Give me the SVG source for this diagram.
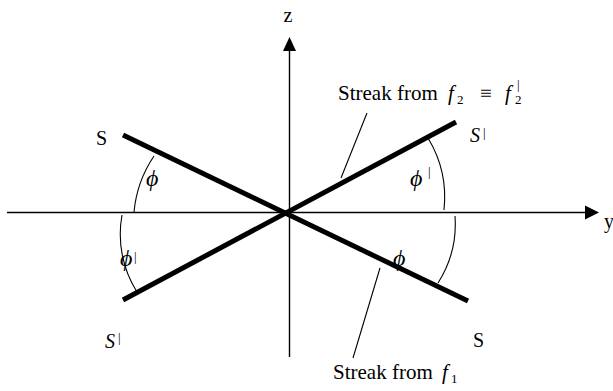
<svg xmlns="http://www.w3.org/2000/svg" width="613" height="391" viewBox="0 0 613 391">
<style>
text{font-family:"Liberation Serif","Times New Roman",serif;fill:#000}
.lab{font-size:20px}
.big{font-size:21px}
.phi{font-size:24px;font-style:italic}
.it{font-style:italic}
.sub{font-size:13px}
.bar{font-size:13px}
.axis{stroke:#000;stroke-width:1.4;fill:none}
.streak{stroke:#000;stroke-width:5;fill:none}
.thin{stroke:#000;stroke-width:1.1;fill:none}
</style>
<rect width="613" height="391" fill="#fff"/>
<g id="axes">
<line class="axis" x1="7" y1="212.5" x2="587" y2="212.5"/>
<polygon points="585,205.5 599,212.5 585,219.5" fill="#000"/>
<line class="axis" x1="289.5" y1="357" x2="289.5" y2="50"/>
<polygon points="283,51 289.5,37 296,51" fill="#000"/>
<text class="lab" x="288" y="22" text-anchor="middle">z</text>
<text class="lab" x="604" y="228">y</text>
</g>
<g id="streaks">
<line class="streak" x1="123" y1="135" x2="468" y2="301"/>
<line class="streak" x1="123" y1="300" x2="456" y2="122"/>
</g>
<g id="angles">
<path class="thin" d="M154,156 A120,120 0 0 0 134,212"/>
<path class="thin" d="M122,215 A108,108 0 0 0 137,292"/>
<path class="thin" d="M428,138 A115,115 0 0 1 444,210"/>
<path class="thin" d="M455,216 A110,110 0 0 1 438,283"/>
</g>
<g id="connectors">
<line class="thin" x1="367" y1="113" x2="341" y2="178"/>
<line class="thin" x1="380" y1="268" x2="353" y2="358"/>
</g>
<g id="labels">
<text class="lab" x="96" y="145">S</text>
<text class="phi" x="146" y="186">ϕ</text>
<text class="phi" x="120" y="266">ϕ</text><text class="bar" x="134" y="261">|</text>
<text class="lab it" x="105" y="348">S</text><text class="bar" x="118" y="342">|</text>
<text class="phi" x="410" y="186">ϕ</text><text class="bar" x="428" y="176">|</text>
<text class="lab it" x="470" y="142">S</text><text class="bar" x="483" y="137">|</text>
<text class="phi" x="393" y="266">ϕ</text>
<text class="lab" x="473" y="347">S</text>
</g>
<g id="streak-labels">
<text class="big" x="338" y="100">Streak from</text>
<text class="big it" x="448" y="100">f</text><text class="sub" x="457" y="104">2</text>
<text class="big" x="480" y="100">≡</text>
<text class="big it" x="505" y="100">f</text><text class="sub" x="515" y="104">2</text><text class="bar" x="517" y="89">|</text>
<text class="big" x="333" y="379">Streak from</text>
<text class="big it" x="442" y="379">f</text><text class="sub" x="451" y="383">1</text>
</g>
</svg>
